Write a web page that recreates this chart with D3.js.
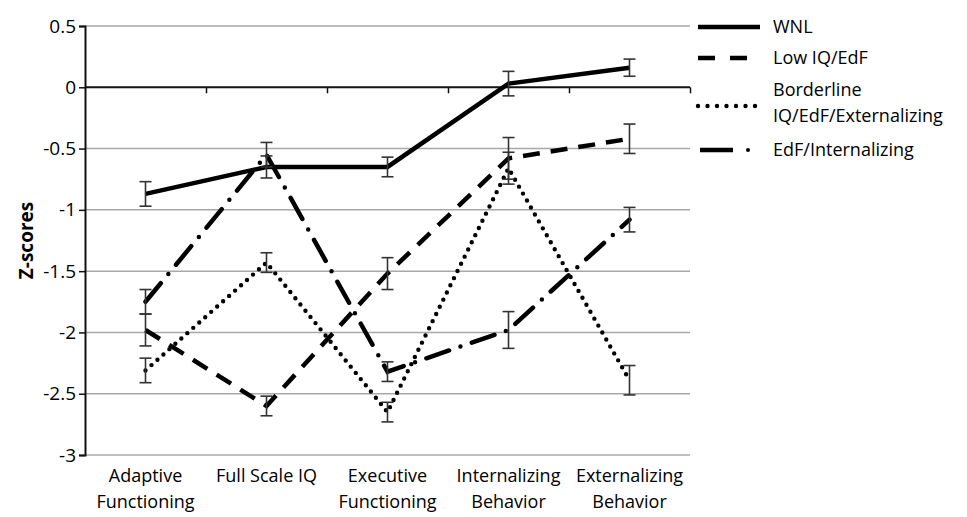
<!DOCTYPE html>
<html>
<head>
<meta charset="utf-8">
<script src="https://cdn.jsdelivr.net/npm/d3@7"></script>
<style>
body { margin:0; background:#fff; }
text { font-family: "Open Sans", "Liberation Sans", Arial, sans-serif; fill:#000; }
</style>
</head>
<body>
<div id="myDiv"></div>
<script>
// data
var categories = [["Adaptive","Functioning"], ["Full Scale IQ"], ["Executive","Functioning"], ["Internalizing","Behavior"], ["Externalizing","Behavior"]];
var seriesNames = ["WNL", "Low IQ/EdF", "Borderline IQ/EdF/Externalizing", "EdF/Internalizing"];
var wnl      = [-0.87, -0.65, -0.65, 0.03, 0.16];
var wnlErr   = [0.10, 0.09, 0.08, 0.10, 0.07];
var lowIQ    = [-1.98, -2.60, -1.52, -0.58, -0.42];
var lowIQErr = [0.13, 0.08, 0.13, 0.17, 0.12];
var border   = [-2.31, -1.43, -2.65, -0.66, -2.39];
var borderErr= [0.10, 0.08, 0.08, 0.13, 0.12];
var edfInt   = [-1.75, -0.55, -2.32, -1.98, -1.08];
var edfIntErr= [0.10, 0.10, 0.08, 0.15, 0.10];
var yTicks = [0.5, 0, -0.5, -1, -1.5, -2, -2.5, -3];

var W = 967, H = 517;
var plotL = 85, plotR = 690, plotT = 26, plotB = 455;

var svg = d3.select("#myDiv").append("svg")
    .attr("width", W).attr("height", H);

var x = d3.scaleBand().domain(d3.range(categories.length)).range([plotL, plotR]);
var y = d3.scaleLinear().domain([-3, 0.5]).range([plotB, plotT]);

// gridlines
svg.append("g").selectAll("line")
    .data(yTicks.filter(function(d){ return d !== 0; }))
    .enter().append("line")
    .attr("x1", plotL).attr("x2", plotR)
    .attr("y1", function(d){ return y(d); }).attr("y2", function(d){ return y(d); })
    .attr("stroke", "#a8a8a8").attr("stroke-width", 1.5);

// y axis
var yAxis = d3.axisLeft(y).tickValues(yTicks).tickSize(6).tickPadding(3)
    .tickFormat(function(d){ return d === 0 ? "0" : String(d); });
var gy = svg.append("g").attr("transform", "translate(" + plotL + ",0)").call(yAxis);
gy.select(".domain").attr("stroke", "#111").attr("stroke-width", 2);
gy.selectAll(".tick line").attr("stroke", "#111").attr("stroke-width", 1.5);
gy.selectAll("text").style("font-size", "19px").attr("fill", "#000")
    .style("font-family", "'Open Sans', sans-serif");

// x axis at zero
var xb = d3.scaleLinear().domain([0, categories.length]).range([plotL, plotR]);
var gx = svg.append("g").attr("transform", "translate(0," + y(0) + ")")
    .call(d3.axisBottom(xb).tickValues(d3.range(1, categories.length + 1)).tickSize(6).tickFormat(""));
gx.select(".domain").attr("stroke", "#111").attr("stroke-width", 2).attr("d", "M" + plotL + ",0H" + plotR);
gx.selectAll(".tick line").attr("stroke", "#111").attr("stroke-width", 1.5);

// category labels
var cat = svg.append("g").selectAll("text").data(categories).enter().append("text")
    .attr("text-anchor", "middle")
    .style("font-size", "18px")
    .attr("x", function(d, i){ return x(i) + x.bandwidth() / 2; })
    .attr("y", 482);
cat.selectAll("tspan").data(function(d){ return d; }).enter().append("tspan")
    .attr("x", function(){ return d3.select(this.parentNode).attr("x"); })
    .attr("dy", function(d, i){ return i === 0 ? 0 : 26; })
    .text(function(d){ return d; });

// y title
svg.append("text")
    .attr("transform", "translate(33," + y(-1.25) + ") rotate(-90)")
    .attr("text-anchor", "middle")
    .style("font-size", "19px").style("font-weight", "bold")
    .text("Z-scores");

var series = [
    {name: seriesNames[0], vals: wnl, err: wnlErr, dash: null, cap: "butt", w: 4.5},
    {name: seriesNames[1], vals: lowIQ, err: lowIQErr, dash: "17,11", cap: "butt", w: 4.5},
    {name: seriesNames[2], vals: border, err: borderErr, dash: "0,8", cap: "round", w: 4.4},
    {name: seriesNames[3], vals: edfInt, err: edfIntErr, dash: "24,12,0,12", cap: "round", w: 4.5}
];

var line = d3.line()
    .x(function(d, i){ return x(i) + x.bandwidth() / 2; })
    .y(function(d){ return y(d); });

series.forEach(function(s){
    svg.append("path")
        .attr("d", line(s.vals))
        .attr("fill", "none")
        .attr("stroke", "#000")
        .attr("stroke-width", s.w)
        .attr("stroke-linecap", s.cap)
        .attr("stroke-linejoin", "miter")
        .attr("stroke-dasharray", s.dash);
});

// error bars
series.forEach(function(s){
    var g = svg.append("g").attr("stroke", "#333").attr("stroke-width", 1.6);
    s.vals.forEach(function(v, i){
        var cx = x(i) + x.bandwidth() / 2;
        g.append("line").attr("x1", cx).attr("x2", cx).attr("y1", y(v + s.err[i])).attr("y2", y(v - s.err[i]));
        g.append("line").attr("x1", cx - 6).attr("x2", cx + 6).attr("y1", y(v + s.err[i])).attr("y2", y(v + s.err[i]));
        g.append("line").attr("x1", cx - 6).attr("x2", cx + 6).attr("y1", y(v - s.err[i])).attr("y2", y(v - s.err[i]));
    });
});

// legend
var legY = [27, 58, 106, 150];
var legDash = [null, "17,15", "0,9.5", "33,15,0,40"];
var legX2 = [760, 748, 758, 760];
var leg = svg.append("g");
series.forEach(function(s, i){
    leg.append("line")
        .attr("x1", i === 3 ? 700 : 698).attr("x2", legX2[i])
        .attr("y1", legY[i]).attr("y2", legY[i])
        .attr("stroke", "#000").attr("stroke-width", s.w)
        .attr("stroke-linecap", i === 3 ? "butt" : s.cap)
        .attr("stroke-dasharray", legDash[i]);
});
// the dot of the dash-dot legend sample
leg.append("circle").attr("cx", 748).attr("cy", legY[3]).attr("r", 2).attr("fill", "#000");

var legText = [["WNL"], ["Low IQ/EdF"], ["Borderline", "IQ/EdF/Externalizing"], ["EdF/Internalizing"]];
var legTextY = [[27], [58], [90, 116], [150]];
legText.forEach(function(lines, i){
    lines.forEach(function(t, j){
        leg.append("text").attr("x", 773).attr("y", legTextY[i][j])
            .attr("dy", "0.35em")
            .style("font-size", "18px")
            .text(t);
    });
});
</script>
</body>
</html>
